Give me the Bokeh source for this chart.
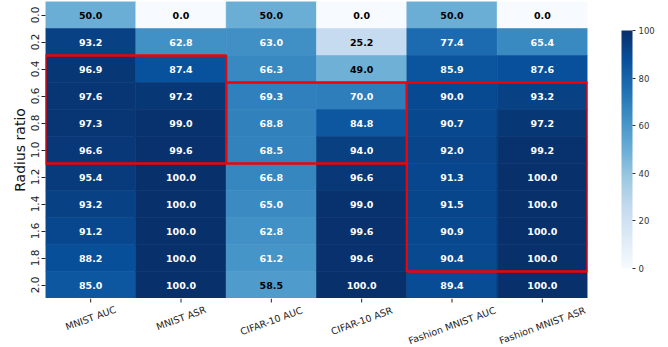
import math

from bokeh.core.properties import value
from bokeh.embed import file_html
from bokeh.layouts import column
from bokeh.models import ColorBar, ColumnDataSource, FixedTicker, LinearColorMapper, Range1d
from bokeh.palettes import Blues256
from bokeh.plotting import figure
from bokeh.resources import INLINE
from bokeh.transform import transform

# Rows: radius ratio; columns: dataset / metric
radius_ratios = ["0.0", "0.2", "0.4", "0.6", "0.8", "1.0", "1.2", "1.4", "1.6", "1.8", "2.0"]
metrics = ["MNIST AUC", "MNIST ASR", "CIFAR-10 AUC", "CIFAR-10 ASR",
           "Fashion MNIST AUC", "Fashion MNIST ASR"]

mnist_auc = [50.0, 93.2, 96.9, 97.6, 97.3, 96.6, 95.4, 93.2, 91.2, 88.2, 85.0]
mnist_asr = [0.0, 62.8, 87.4, 97.2, 99.0, 99.6, 100.0, 100.0, 100.0, 100.0, 100.0]
cifar_auc = [50.0, 63.0, 66.3, 69.3, 68.8, 68.5, 66.8, 65.0, 62.8, 61.2, 58.5]
cifar_asr = [0.0, 25.2, 49.0, 70.0, 84.8, 94.0, 96.6, 99.0, 99.6, 99.6, 100.0]
fmnist_auc = [50.0, 77.4, 85.9, 90.0, 90.7, 92.0, 91.3, 91.5, 90.9, 90.4, 89.4]
fmnist_asr = [0.0, 65.4, 87.6, 93.2, 97.2, 99.2, 100.0, 100.0, 100.0, 100.0, 100.0]

columns = [mnist_auc, mnist_asr, cifar_auc, cifar_asr, fmnist_auc, fmnist_asr]

# Highlighted blocks: (first row, last row, first column, last column)
highlights = [(2, 5, 0, 1), (3, 5, 2, 3), (3, 9, 4, 5)]

# Pixel layout
WIDTH, LEFT, RIGHT = 668, 45, 81
MAP_H, STRIP_H = 298, 49

palette = tuple(reversed(Blues256))  # light -> dark
mapper = LinearColorMapper(palette=palette, low=0, high=100)

xs, ys, vals, labels, text_colors = [], [], [], [], []
for c, col in enumerate(columns):
    for r, v in enumerate(col):
        xs.append(c + 0.5)
        ys.append(r + 0.5)
        vals.append(v)
        labels.append(f"{v:.1f}")
        text_colors.append("#000000" if v < 60 else "#ffffff")

src = ColumnDataSource(dict(x=xs, y=ys, v=vals, label=labels, tc=text_colors))

x_range = Range1d(0, len(metrics))
p = figure(width=WIDTH, height=MAP_H, output_backend="svg", toolbar_location=None,
           x_range=x_range, y_range=Range1d(len(radius_ratios), 0),
           min_border_left=LEFT, min_border_right=RIGHT, min_border_top=1, min_border_bottom=0)
p.grid.visible = False
p.outline_line_color = None
p.background_fill_color = "white"
p.xaxis.visible = False

p.rect(x="x", y="y", width=1, height=1, source=src,
       fill_color=transform("v", mapper), line_color=transform("v", mapper), line_width=0.6)

p.text(x="x", y="y", text="label", source=src, text_color="tc",
       text_align="center", text_baseline="middle",
       text_font=value("DejaVu Sans"), text_font_style="bold", text_font_size="9.5px")

for r0, r1, c0, c1 in highlights:
    p.quad(left=c0, right=c1 + 1, top=r0, bottom=r1 + 1,
           fill_color=None, line_color="#f50000", line_width=2.3)

# Row axis
p.yaxis.ticker = FixedTicker(ticks=[i + 0.5 for i in range(len(radius_ratios))])
p.yaxis.major_label_overrides = {i + 0.5: r for i, r in enumerate(radius_ratios)}
p.yaxis.major_label_orientation = "vertical"
p.yaxis.axis_label = "Radius ratio"
p.yaxis.axis_line_color = None
p.yaxis.minor_tick_line_color = None
p.yaxis.major_tick_in = 0
p.yaxis.major_tick_out = 4
p.yaxis.major_tick_line_color = "#222222"
p.yaxis.major_label_text_font = "DejaVu Sans"
p.yaxis.major_label_text_font_size = "10.5px"
p.yaxis.major_label_text_color = "#222222"
p.yaxis.major_label_standoff = 3
p.yaxis.axis_label_text_font = "DejaVu Sans"
p.yaxis.axis_label_text_font_size = "14px"
p.yaxis.axis_label_text_font_style = "normal"
p.yaxis.axis_label_text_color = "#111111"
p.yaxis.axis_label_standoff = 0

cb = ColorBar(color_mapper=mapper, ticker=FixedTicker(ticks=[0, 20, 40, 60, 80, 100]),
              width=11, height=238, location=(34, 30), padding=0, margin=0,
              major_tick_in=0, major_tick_out=3, major_tick_line_color="#333333",
              major_label_text_font="DejaVu Sans", major_label_text_font_size="8.5px",
              major_label_text_color="#333333", bar_line_color=None,
              border_line_color=None, background_fill_color=None, label_standoff=3)
p.add_layout(cb, "right")

# Column axis strip under the map: same column units horizontally, pixels
# (downwards) vertically
q = figure(width=WIDTH, height=STRIP_H, output_backend="svg", toolbar_location=None,
           x_range=x_range, y_range=Range1d(STRIP_H, 0),
           min_border_left=LEFT, min_border_right=RIGHT, min_border_top=0, min_border_bottom=0)
q.axis.visible = False
q.grid.visible = False
q.outline_line_color = None

tick_x = [i + 0.5 for i in range(len(metrics))]
q.segment(x0=tick_x, x1=tick_x, y0=[0] * len(metrics), y1=[4] * len(metrics),
          line_color="#222222", line_width=1)

# Rotated names hang from a common top line, centred on their ticks
angle = math.radians(20)
label_top, char_w, line_h = 6, 5.4, 11
label_y = [label_top + (len(m) * char_w * math.sin(angle) + line_h * math.cos(angle)) / 2
           for m in metrics]
q.text(x=tick_x, y=label_y, text=metrics, angle=angle,
       text_align="center", text_baseline="middle", text_color="#222222",
       text_font=value("DejaVu Sans"), text_font_size="9.5px")

layout = column(p, q, spacing=0)
open("out.html", "w").write(file_html(layout, INLINE))
